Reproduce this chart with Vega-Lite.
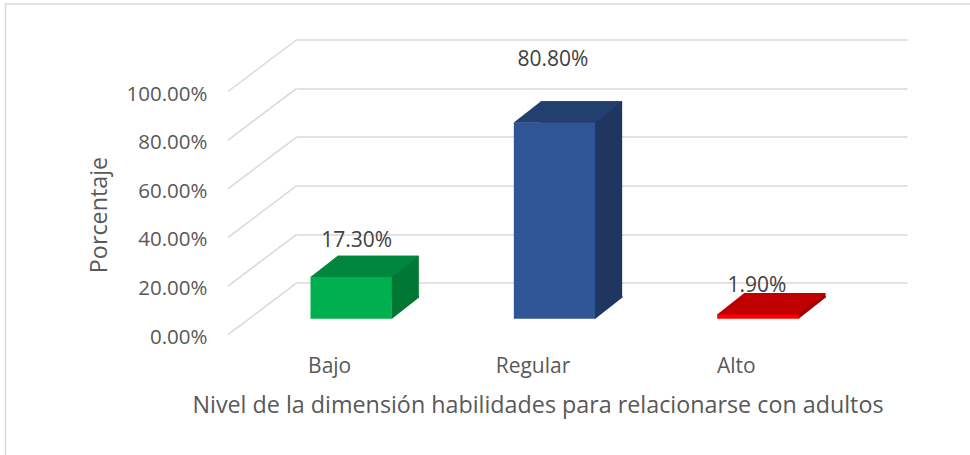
{
  "$schema": "https://vega.github.io/schema/vega-lite/v6.json",
  "width": 610,
  "height": 243.2,
  "autosize": {"type": "none"},
  "padding": {"left": 297, "top": 39.5, "right": 63, "bottom": 172.3},
  "background": "white",
  "config": {
    "view": {"stroke": null},
    "axis": {
      "labelFont": "Open Sans",
      "titleFont": "Open Sans",
      "labelColor": "#595959",
      "titleColor": "#595959",
      "titleFontWeight": "normal"
    }
  },
  "data": {
    "values": [
      {"nivel": "Bajo", "porcentaje": 0.173},
      {"nivel": "Regular", "porcentaje": 0.808},
      {"nivel": "Alto", "porcentaje": 0.019}
    ]
  },
  "layer": [
    {
      "data": {"values": [{"t": 0}, {"t": 0.2}, {"t": 0.4}, {"t": 0.6}, {"t": 0.8}, {"t": 1}]},
      "mark": {"type": "rule", "color": "#D9D9D9", "strokeWidth": 1.5, "xOffset": -69, "yOffset": 52},
      "encoding": {
        "x": {"value": 0},
        "x2": {"value": 0},
        "y": {
          "field": "t",
          "type": "quantitative",
          "scale": {"domain": [0, 1], "nice": false},
          "axis": {
            "title": "Porcentaje",
            "format": ".2%",
            "values": [0, 0.2, 0.4, 0.6, 0.8, 1],
            "grid": true,
            "gridColor": "#D9D9D9",
            "gridWidth": 1.5,
            "ticks": false,
            "domain": false,
            "offset": 69,
            "labelOffset": 54.5,
            "labelPadding": 21,
            "labelFontSize": 20.5,
            "titleFontSize": 23.3,
            "titleX": -129,
            "titleY": 175,
            "titleBaseline": "middle",
            "titleAngle": 270
          }
        },
        "y2": {"field": "t"}
      }
    },
    {
      "data": {"values": [{"frame": 1}]},
      "mark": {"type": "rule", "color": "#D9D9D9", "strokeWidth": 1.5, "xOffset": -292, "x2Offset": 680, "yOffset": -35.5},
      "encoding": {"x": {"value": 0}, "x2": {"value": 0}, "y": {"datum": 1, "type": "quantitative"}}
    },
    {
      "data": {"values": [{"frame": 1}]},
      "mark": {"type": "rule", "color": "#D9D9D9", "strokeWidth": 1.5, "xOffset": -291.5, "yOffset": -36.2, "y2Offset": 180},
      "encoding": {"x": {"value": 0}, "y": {"datum": 1, "type": "quantitative"}, "y2": {"datum": 0}}
    },
    {
      "mark": {"type": "bar", "xOffset": -20.5, "x2Offset": -20.5, "yOffset": 15, "y2Offset": 15},
      "encoding": {
        "x": {
          "field": "nivel",
          "type": "nominal",
          "sort": ["Bajo", "Regular", "Alto"],
          "scale": {"domain": ["Bajo", "Regular", "Alto"], "paddingInner": 0.6, "paddingOuter": 0.3},
          "axis": {
            "title": "Nivel de la dimensión habilidades para relacionarse con adultos",
            "labelAngle": 0,
            "labelFontSize": 21,
            "labelOffset": -69,
            "labelPadding": 21,
            "offset": 52,
            "ticks": false,
            "domain": false,
            "grid": false,
            "titleFontSize": 23.3,
            "titleX": 240.5,
            "titleY": 71,
            "titleBaseline": "middle",
            "titleAnchor": null
          }
        },
        "y": {"field": "porcentaje", "type": "quantitative"},
        "color": {"field": "nivel", "type": "nominal", "scale": {"domain": ["Bajo", "Regular", "Alto"], "range": ["#007733", "#1F3760", "#A00000"]}, "legend": null}
      }
    },
    {
      "mark": {"type": "point", "filled": true, "opacity": 1, "strokeWidth": 0, "size": 4, "shape": "M40.2,0.5L67.9,-21.2L67.9,-23L40.2,-23Z", "xOffset": -47.5, "yOffset": 36},
      "encoding": {
        "x": {"field": "nivel", "type": "nominal", "sort": ["Bajo", "Regular", "Alto"]},
        "y": {"datum": 0, "type": "quantitative"},
        "color": {"field": "nivel", "type": "nominal", "scale": {"domain": ["Bajo", "Regular", "Alto"], "range": ["#007733", "#1F3760", "#A00000"]}, "legend": null}
      }
    },
    {
      "mark": {"type": "bar", "xOffset": -47.5, "x2Offset": -47.5, "yOffset": 36, "y2Offset": 36},
      "encoding": {
        "x": {"field": "nivel", "type": "nominal", "sort": ["Bajo", "Regular", "Alto"]},
        "y": {"field": "porcentaje", "type": "quantitative"},
        "color": {"field": "nivel", "type": "nominal", "scale": {"domain": ["Bajo", "Regular", "Alto"], "range": ["#00B050", "#2F5597", "#FF0000"]}, "legend": null}
      }
    },
    {
      "mark": {"type": "point", "filled": true, "opacity": 1, "strokeWidth": 0, "size": 4, "shape": "M-40.7,0.3L40.7,0.3L67.9,-21L-13.5,-21Z", "xOffset": -47.5, "yOffset": 36},
      "encoding": {
        "x": {"field": "nivel", "type": "nominal", "sort": ["Bajo", "Regular", "Alto"]},
        "y": {"field": "porcentaje", "type": "quantitative"},
        "color": {"field": "nivel", "type": "nominal", "scale": {"domain": ["Bajo", "Regular", "Alto"], "range": ["#00873D", "#233F70", "#C00000"]}, "legend": null}
      }
    },
    {
      "transform": [{"filter": "datum.nivel == 'Bajo'"}],
      "mark": {"type": "text", "font": "Open Sans", "fontSize": 21, "color": "#404040", "baseline": "middle", "xOffset": -47.5, "yOffset": 36, "dx": 5.5, "dy": -36},
      "encoding": {"x": {"field": "nivel", "type": "nominal", "sort": ["Bajo", "Regular", "Alto"]}, "y": {"field": "porcentaje", "type": "quantitative"}, "text": {"field": "porcentaje", "type": "quantitative", "format": ".2%"}}
    },
    {
      "transform": [{"filter": "datum.nivel == 'Regular'"}],
      "mark": {"type": "text", "font": "Open Sans", "fontSize": 21, "color": "#404040", "baseline": "middle", "xOffset": -47.5, "yOffset": 36, "dx": -1.5, "dy": -62.5},
      "encoding": {"x": {"field": "nivel", "type": "nominal", "sort": ["Bajo", "Regular", "Alto"]}, "y": {"field": "porcentaje", "type": "quantitative"}, "text": {"field": "porcentaje", "type": "quantitative", "format": ".2%"}}
    },
    {
      "transform": [{"filter": "datum.nivel == 'Alto'"}],
      "mark": {"type": "text", "font": "Open Sans", "fontSize": 21, "color": "#404040", "baseline": "middle", "xOffset": -47.5, "yOffset": 36, "dx": -1, "dy": -28.5},
      "encoding": {"x": {"field": "nivel", "type": "nominal", "sort": ["Bajo", "Regular", "Alto"]}, "y": {"field": "porcentaje", "type": "quantitative"}, "text": {"field": "porcentaje", "type": "quantitative", "format": ".2%"}}
    }
  ],
  "resolve": {"scale": {"color": "independent"}}
}
